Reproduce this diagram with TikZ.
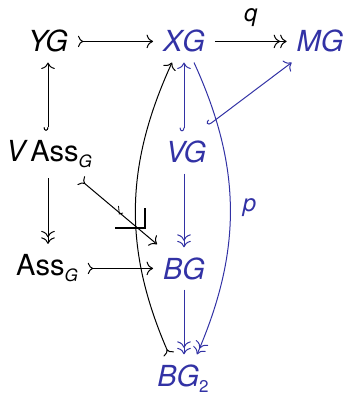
\documentclass[tikz,border=0pt]{standalone}
\usepackage{fontspec}
\setmainfont{TeX Gyre Heros}
\usepackage{xcolor}
\usetikzlibrary{arrows.meta}
\definecolor{dgblue}{RGB}{50,50,165}
\newcommand{\dgsub}[1]{\raisebox{-3pt}{\fontsize{8.5}{9}\selectfont #1}}
\tikzset{
  obj/.style      = {anchor=base, inner sep=5pt, outer sep=0pt,
                     font=\fontsize{14.5}{17}\selectfont\itshape},
  bobj/.style     = {obj, text=dgblue},
  arr/.style      = {-{To[scale=1.2]}, line width=0.5pt},
  epi/.style      = {-{To[scale=1.2]To[scale=1.2]}, line width=0.5pt},
  monoarr/.style  = {{To[reversed]}-{To[scale=1.2]}, line width=0.5pt},
  hookarr/.style  = {{Hooks[right,length=1.8pt,width=4.5pt]}-{To[scale=1.2]}, line width=0.5pt},
  arrlab/.style   = {font=\fontsize{12}{14}\selectfont\itshape, inner sep=2pt},
  pbcorner/.style = {line width=1.2pt},
}
\begin{document}
\begin{tikzpicture}[x=0.5pt, y=-0.5pt]
  \useasboundingbox (0,0) rectangle (345,394);
  % objects
  \node[obj]  (YG)   at (48,52)   {YG};
  \node[bobj] (XG)   at (184,52)  {XG};
  \node[bobj] (MG)   at (320,52)  {MG};
  \node[obj]  (VAss) at (49,162)  {V\,{\upshape Ass}\dgsub{G}};
  \node[bobj] (VG)   at (186,163) {VG};
  \node[obj]  (Ass)  at (47,275)  {{\upshape Ass}\dgsub{G}};
  \node[bobj] (BG)   at (184,279) {BG};
  \node[bobj] (BG2)  at (183,386) {BG\dgsub{\upshape 2}};
  % top row
  \draw[monoarr] (YG.east) -- (XG.west);
  \draw[epi] (XG.east) -- node[arrlab, above=5pt] {q} (MG.west);
  % left column
  \draw[hookarr] (VAss.north -| YG.south) -- (YG.south);
  \draw[epi] (VAss.south -| YG.south) -- (Ass.north -| YG.south);
  \draw[monoarr] ([xshift=-10.5pt,yshift=-1pt]VAss.south east) -- ([shift={(4,-3)}]BG.north west);
  \draw (118.5,206) -- (119.3,214) -- (123,213);
  \draw[pbcorner] (115,228) -- (145,228) -- (145,208);
  \draw[monoarr] (Ass.east |- BG.west) -- (BG.west);
  % blue part
  \draw[hookarr, dgblue] (VG.north -| XG.south) -- (XG.south);
  \draw[epi, dgblue] (VG.south -| XG.south) -- (BG.north -| XG.south);
  \draw[epi, dgblue] (BG.south -| XG.south) -- (BG2.north -| XG.south);
  \draw[hookarr, dgblue] ([xshift=-4pt,yshift=3pt]VG.north east) -- ([shift={(5,0)}]MG.south west);
  \draw[epi, dgblue] ([xshift=5pt]XG.south) to[bend left=24]
    node[arrlab, right=4pt] {p} ([xshift=7pt]BG2.north);
  \draw[monoarr] ([xshift=-7pt]BG2.north) to[bend left=24] ([xshift=-6pt]XG.south);
\end{tikzpicture}
\end{document}
